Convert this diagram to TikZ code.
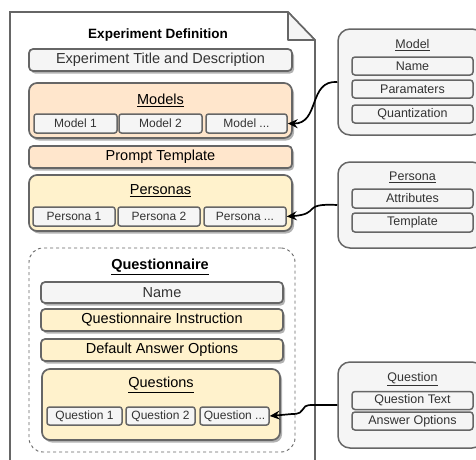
\documentclass[tikz,border=0pt]{standalone}
\usepackage{fontspec}
\setmainfont{Liberation Sans}
\usetikzlibrary{shadows,arrows.meta}
\definecolor{strk}{HTML}{666666}
\definecolor{grayfill}{HTML}{F5F5F5}
\definecolor{orangefill}{HTML}{FFE6CC}
\definecolor{yellowfill}{HTML}{FFF2CC}
\definecolor{txt}{HTML}{333333}
\tikzset{
  mainfont/.style={font=\fontsize{14.5}{16}\selectfont},
  subfont/.style={font=\fontsize{12}{14}\selectfont},
  rightfont/.style={font=\fontsize{12.5}{14}\selectfont},
  shadowed/.style={drop shadow={shadow xshift=2pt,shadow yshift=-2.5pt,fill=black,opacity=0.3}},
  bigbox/.style={draw=strk,line width=1.7pt,rounded corners=4pt,shadowed,inner sep=0pt,mainfont},
  container/.style={draw=strk,line width=1.7pt,rounded corners=8pt,shadowed,inner sep=0pt},
  subbox/.style={draw=strk,line width=1.5pt,fill=grayfill,rounded corners=2.5pt,inner sep=0pt,subfont,text=txt},
  rightbox/.style={draw=strk,line width=1.5pt,fill=grayfill,rounded corners=12pt,inner sep=0pt},
  rightsub/.style={draw=strk,line width=1.5pt,fill=grayfill,rounded corners=3pt,inner sep=0pt,rightfont,text=txt,minimum width=121pt,minimum height=18pt},
  conn/.style={line width=1.7pt,-{Stealth[length=10pt,width=9pt,inset=3.5pt]}},
}
\begin{document}
\begin{tikzpicture}[x=1pt,y=-1pt]
\useasboundingbox (0,0) rectangle (476,459);
% document
\draw[strk,line width=1.6pt,fill=white] (10,475) -- (10,12) -- (288,12) -- (315,40) -- (315,475);
\draw[strk,line width=1.6pt,fill=grayfill,line join=round] (288,12) -- (288,40) -- (315,40) -- cycle;
\node[font=\bfseries\fontsize{13.5}{16}\selectfont] (doctitle) at (158,35) {Experiment Definition};
\node[bigbox,fill=grayfill,text=txt,minimum width=263pt,minimum height=22pt] (title) at (160.5,60) {Experiment Title and Description};
% models
\node[container,fill=orangefill,minimum width=263pt,minimum height=55pt] (models) at (160.5,110.5) {};
\node[mainfont] (modelslbl) at (160.5,100) {\underline{Models}};
\node[subbox,minimum width=83pt,minimum height=19pt] (m1) at (75.5,123.5) {Model 1};
\node[subbox,minimum width=83pt,minimum height=19pt] (m2) at (160.5,123.5) {Model 2};
\node[subbox,minimum width=81pt,minimum height=19pt] (m3) at (246.5,123.5) {Model ...};
% prompt
\node[bigbox,fill=orangefill,minimum width=263pt,minimum height=22pt] (prompt) at (160.5,157) {Prompt Template};
% personas
\node[container,fill=yellowfill,minimum width=263pt,minimum height=56pt] (personas) at (160.5,203) {};
\node[mainfont] (personaslbl) at (160.5,191) {\underline{Personas}};
\node[subbox,minimum width=82pt,minimum height=19pt] (p1) at (74,216.5) {Persona 1};
\node[subbox,minimum width=82pt,minimum height=19pt] (p2) at (159,216.5) {Persona 2};
\node[subbox,minimum width=82pt,minimum height=19pt] (p3) at (245,216.5) {Persona ...};
% questionnaire
\node[draw=strk,dashed,line width=0.9pt,rounded corners=14pt,minimum width=266pt,minimum height=204pt] (quest) at (162,350) {};
\node[font=\bfseries\fontsize{14.5}{16}\selectfont] (questlbl) at (160,267) {\underline{Questionnaire}};
\node[bigbox,fill=grayfill,text=txt,minimum width=242pt,minimum height=21pt] (qname) at (162,292.5) {Name};
\node[bigbox,fill=yellowfill,minimum width=242pt,minimum height=22pt] (qinstr) at (162,320) {Questionnaire Instruction};
\node[bigbox,fill=yellowfill,minimum width=242pt,minimum height=22pt] (qdao) at (162,350) {Default Answer Options};
\node[container,fill=yellowfill,minimum width=238pt,minimum height=71pt] (questions) at (161,404.5) {};
\node[mainfont] (questionslbl) at (161,385) {\underline{Questions}};
\node[subbox,minimum width=75pt,minimum height=18pt] (q1) at (84.5,416) {Question 1};
\node[subbox,minimum width=69pt,minimum height=18pt] (q2) at (160.5,416) {Question 2};
\node[subbox,minimum width=69pt,minimum height=18pt] (q3) at (234.5,416) {Question ...};
% right: model
\node[rightbox,minimum width=146pt,minimum height=106pt] (modelbox) at (411,82) {};
\node[rightfont,text=txt] (modellbl) at (412.5,45) {\underline{Model}};
\node[rightsub] (mname) at (412.5,66) {Name};
\node[rightsub] (mparam) at (412.5,89) {Paramaters};
\node[rightsub] (mquant) at (412.5,114) {Quantization};
% right: persona
\node[rightbox,minimum width=146pt,minimum height=86pt] (personabox) at (411,205) {};
\node[rightfont,text=txt] (personalbl) at (412.5,177) {\underline{Persona}};
\node[rightsub,minimum height=19pt] (pattr) at (412.5,198.5) {Attributes};
\node[rightsub,minimum height=19pt] (ptmpl) at (412.5,222.5) {Template};
% right: question
\node[rightbox,minimum width=146pt,minimum height=86pt] (questionbox) at (411,405) {};
\node[rightfont,text=txt] (questionlbl) at (412.5,379) {\underline{Question}};
\node[rightsub] (qtext) at (412.5,400.5) {Question Text};
\node[rightsub] (qopts) at (412.5,421) {Answer Options};
% connectors
\draw[conn] (modelbox.west) .. controls (308,80) and (320,124) .. (m3.east);
\draw[conn] (personabox.west) .. controls (300,203) and (322,214) .. (p3.east);
\draw[conn] (questionbox.west) -- (312,405) .. controls (298,405) and (308,414) .. (292,414) -- (q3.east);
\end{tikzpicture}
\end{document}
